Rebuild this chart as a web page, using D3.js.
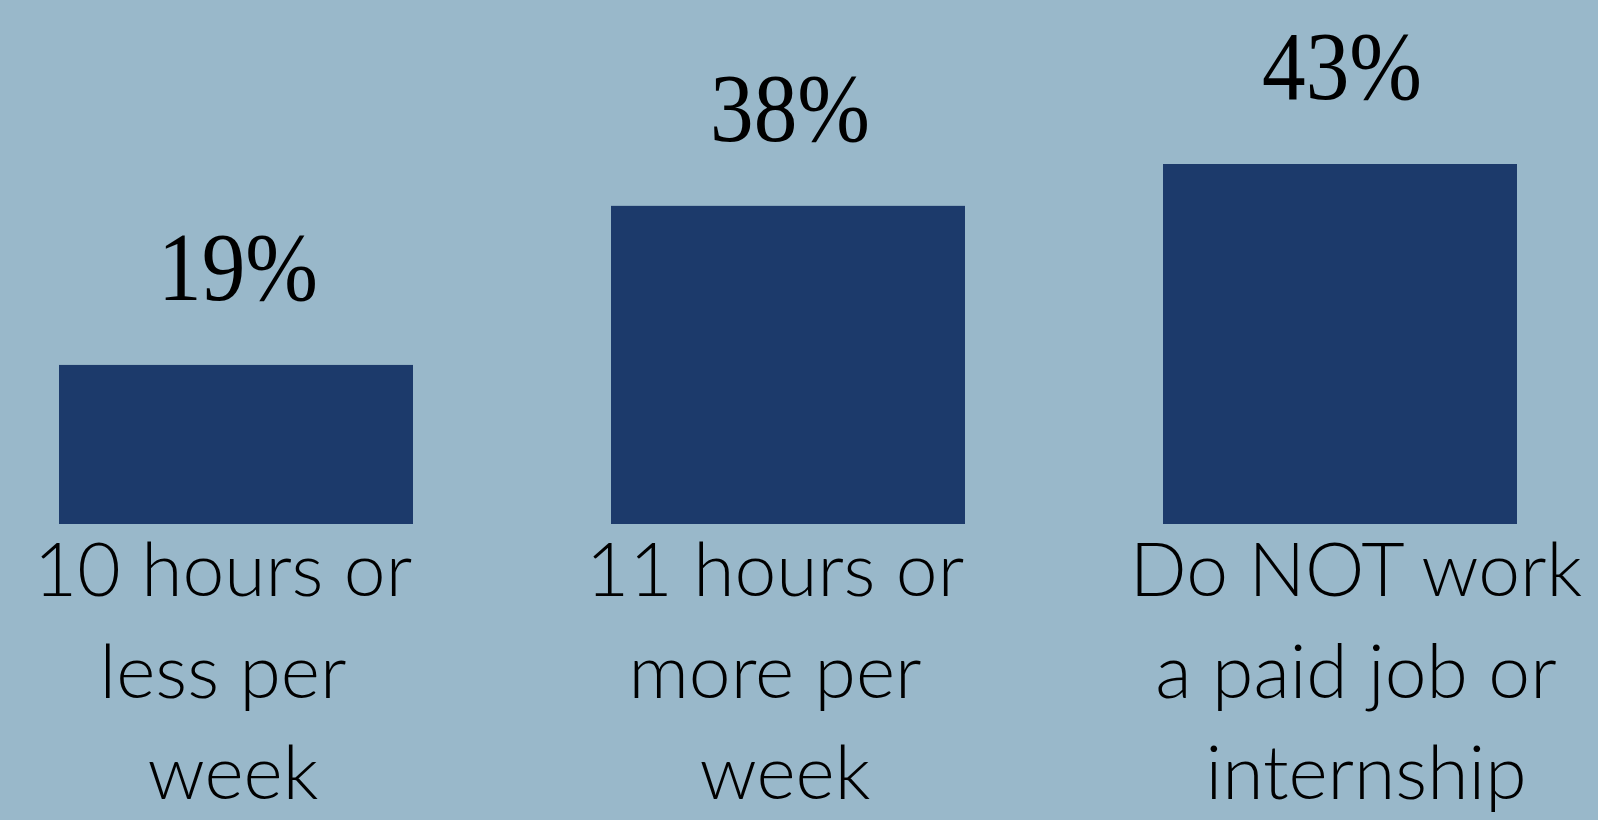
<!DOCTYPE html>
<html>
<head>
<meta charset="utf-8">
<script src="https://cdn.jsdelivr.net/npm/d3@7"></script>
<style>
  html, body { margin: 0; padding: 0; background: #99b8ca; overflow: hidden; }
  svg { display: block; }
</style>
</head>
<body>
<svg id="chart" width="1598" height="820"></svg>
<script>
// ---- data ----
const categories = ["10 hours or less per week", "11 hours or more per week", "Do NOT work a paid job or internship"];
const categoryLines = [
  ["10 hours or", "less per", "week"],
  ["11 hours or", "more per", "week"],
  ["Do NOT work", "a paid job or", "internship"]
];
const values = [19, 38, 43];
const valueLabels = ["19%", "38%", "43%"];

// ---- layout ----
const W = 1598, H = 820;
const baseY = 524;
const svg = d3.select("#chart");
svg.append("rect").attr("width", W).attr("height", H).attr("fill", "#99b8ca");

const x = d3.scaleBand()
  .domain(categories)
  .range([59, 1517])
  .paddingInner(0.3587)
  .paddingOuter(0);

const y = d3.scaleLinear()
  .domain([0, 43])
  .range([baseY, 164]);

const data = categories.map((c, i) => ({ c, v: values[i], label: valueLabels[i], lines: categoryLines[i], i }));

svg.selectAll("rect.bar")
  .data(data)
  .enter().append("rect")
  .attr("class", "bar")
  .attr("x", d => x(d.c))
  .attr("y", d => y(d.v))
  .attr("width", x.bandwidth())
  .attr("height", d => baseY - y(d.v))
  .attr("fill", "#1c3a6b");

// value labels
svg.selectAll("text.val")
  .data(data)
  .enter().append("text")
  .attr("class", "val")
  .attr("x", d => x(d.c) + x.bandwidth() / 2 + 2)
  .attr("y", d => y(d.v) - 65)
  .attr("text-anchor", "middle")
  .attr("font-family", "'Liberation Serif', 'Times New Roman', serif")
  .attr("font-size", 97)
  .attr("textLength", 160)
  .attr("lengthAdjust", "spacingAndGlyphs")
  .attr("fill", "#000")
  .text(d => d.label);

// category labels (last one sits slightly right of its bar in the original)
const labelShift = (i, j, n) => {
  const last = i === categories.length - 1;
  const trailing = j < n - 1 ? -10 : 0;
  return (last ? 26 : -3) + trailing;
};
const catG = svg.selectAll("g.cat")
  .data(data)
  .enter().append("g")
  .attr("class", "cat")
  .attr("transform", d => `translate(${x(d.c) + x.bandwidth() / 2},0)`);

catG.selectAll("text")
  .data(d => d.lines.map((l, j) => ({ l, j, n: d.lines.length, i: d.i })))
  .enter().append("text")
  .attr("x", t => labelShift(t.i, t.j, t.n))
  .attr("y", t => baseY + 72 + t.j * 101.5)
  .attr("text-anchor", "middle")
  .attr("font-family", "Lato, 'Open Sans', sans-serif")
  .attr("font-weight", 300)
  .attr("font-size", 75)
  .attr("fill", "#000")
  .text(t => t.l);
</script>
</body>
</html>
